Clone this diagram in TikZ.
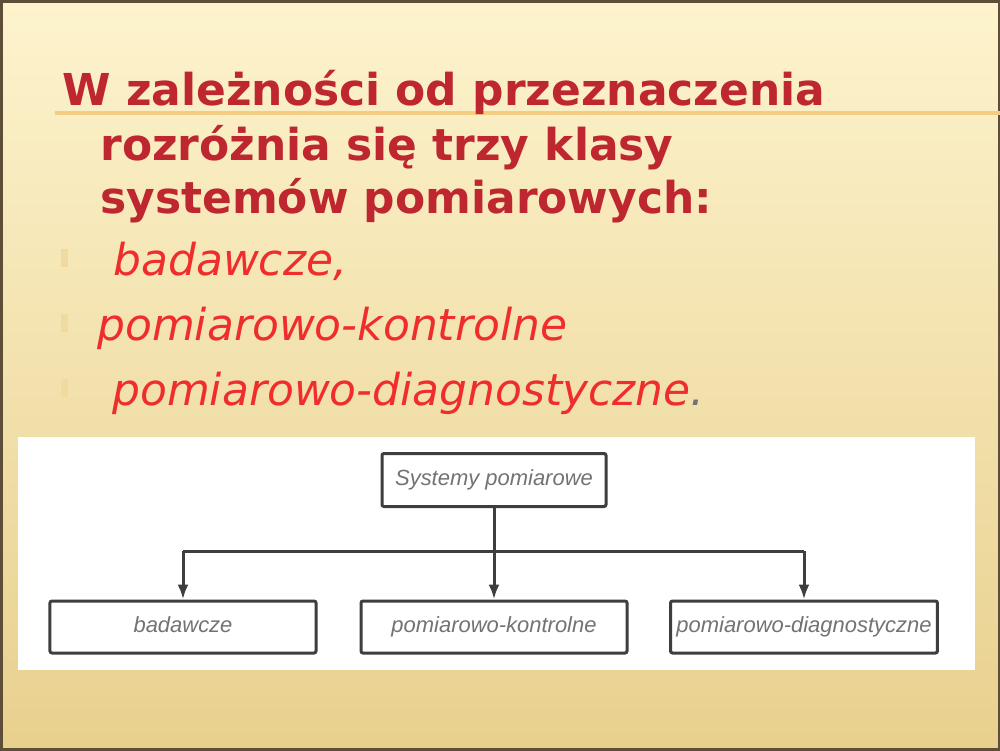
\documentclass[tikz,border=0pt]{standalone}
\usepackage{fontspec}
\setmainfont{DejaVu Sans}
\newfontfamily\kastenfont{Liberation Sans}
\usepackage{tikz}
\usetikzlibrary{arrows.meta}
\usetikzlibrary{positioning}
\definecolor{tytul}{RGB}{190,38,48}
\definecolor{punkt}{RGB}{240,45,45}
\definecolor{tloG}{RGB}{253,243,205}
\definecolor{tloS}{RGB}{249,234,185}
\definecolor{tloD}{RGB}{232,208,142}
\definecolor{ramka}{RGB}{95,78,55}
\definecolor{linia}{RGB}{245,205,130}
\definecolor{znacznik}{RGB}{240,218,160}
\definecolor{kreska}{RGB}{62,62,62}
\definecolor{napis}{RGB}{115,115,115}
\tikzset{
  Titel/.style={anchor=base west, inner sep=0pt, text=tytul,
    font=\fontsize{25}{30}\selectfont\bfseries}, % Ueberschrift
  Punkt/.style={anchor=base west, inner sep=0pt, text=punkt,
    font=\fontsize{25}{30}\selectfont\itshape}, % Aufzaehlung
  Kasten/.style={draw=kreska, line width=0.6mm, rounded corners=0.4mm,
    fill=white, minimum width=53.2mm, minimum height=10.4mm, text=napis,
    text height=9pt, text depth=2.5pt,
    font=\kastenfont\fontsize{12.5}{14}\selectfont\itshape},
  Verb/.style={draw=kreska, line width=0.6mm},
  Pfeil/.style={Verb, -{Latex[length=3mm,width=2.2mm]}}
}

\begin{document}
\begin{tikzpicture}[x=0.2mm, y=-0.2mm]
\useasboundingbox (0,0) rectangle (1000,750);

%Hintergrund
\shade[top color=tloG, middle color=tloS, bottom color=tloD] (0,0) rectangle (1000,750);
\draw[ramka, line width=1mm] (0,0) rectangle (1000,750);
\draw[linia, line width=0.8mm] (55,113) -- (1000,113);

%Text
\node[Titel] (T1) at (62,105) {W zależności od przeznaczenia};
\node[Titel] (T2) at (100,160) {rozróżnia się trzy klasy};
\node[Titel] (T3) at (100,213) {systemów pomiarowych:};

\fill[znacznik] (61,249) rectangle (68,267);
\fill[znacznik] (61,314) rectangle (68,332);
\fill[znacznik] (61,379) rectangle (68,397);
\node[Punkt] (P1) at (113,275) {badawcze,};
\node[Punkt] (P2) at (97,340) {pomiarowo-kontrolne};
\node[Punkt] (P3) at (112,405) {pomiarowo-diagnostyczne\textcolor{napis}{.}};

%Schema
\fill[white] (18,437) rectangle (975,670);
\node[Kasten, minimum width=44.8mm, minimum height=10.6mm] (Sys) at (494,480) {Systemy pomiarowe};
\node[Kasten] (Bad) at (183,627) {badawcze};
\node[Kasten] (Kon) at (494,627) {pomiarowo-kontrolne};
\node[Kasten] (Diag) at (804,627) {pomiarowo-diagnostyczne};

\coordinate (Bus) at (494,551);
\coordinate (BusL) at (Bad.north |- Bus);
\coordinate (BusR) at (Diag.north |- Bus);

%Leitungen
\draw[Verb] (Sys.south) -- (Bus);
\draw[Verb] (BusL) -- (BusR);
\draw[Pfeil] (BusL) -- (Bad.north);
\draw[Pfeil] (Bus) -- (Kon.north);
\draw[Pfeil] (BusR) -- (Diag.north);

\end{tikzpicture}
\end{document}
